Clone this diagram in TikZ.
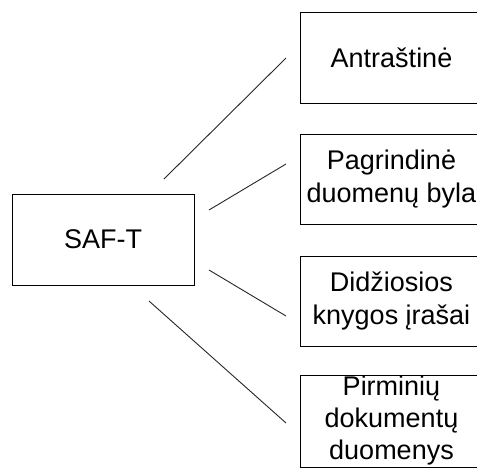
\documentclass[tikz,border=0pt]{standalone}
\usepackage{fontspec}
\setmainfont{Liberation Sans}
\begin{document}
\begin{tikzpicture}[x=1pt,y=-1pt,
  box/.style={draw=black,line width=1pt,inner sep=0pt,align=center,
    font=\fontsize{27}{33}\selectfont},
  conn/.style={draw=black!85,line width=0.9pt}]
\useasboundingbox (0,0) rectangle (477,467);
\clip (0,0) rectangle (477,467);
\node[box,minimum width=182pt,minimum height=91pt] (saft) at (103,239.5) {SAF-T};
\node[box,minimum width=183pt,minimum height=91pt] (a) at (391.5,57.5) {Antraštinė};
\node[box,minimum width=183pt,minimum height=90pt] (b) at (391.5,179) {Pagrindinė\\duomenų byla};
\node[box,minimum width=183pt,minimum height=90pt] (c) at (391.5,301) {Didžiosios\\knygos įrašai};
\node[box,minimum width=183pt,minimum height=92pt,font=\fontsize{27}{32}\selectfont] (d) at (391.5,421) {Pirminių\\dokumentų\\duomenys};
\coordinate (s1) at (164,179); \coordinate (e1) at (286,58);
\coordinate (s2) at (209,210); \coordinate (e2) at (286,164);
\coordinate (s3) at (209,270); \coordinate (e3) at (286,316);
\coordinate (s4) at (149,301); \coordinate (e4) at (286,423);
\draw[conn] (s1) -- (e1);
\draw[conn] (s2) -- (e2);
\draw[conn] (s3) -- (e3);
\draw[conn] (s4) -- (e4);
\end{tikzpicture}
\end{document}
